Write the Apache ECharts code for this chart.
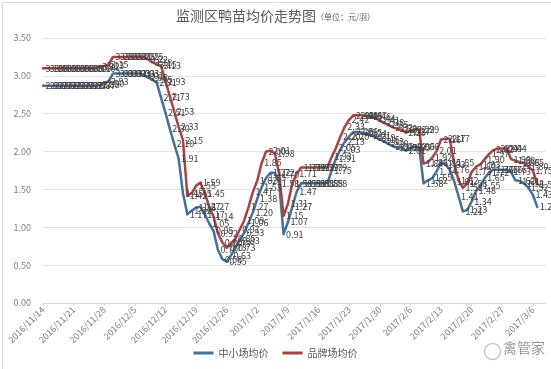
<!DOCTYPE html>
<html><head><meta charset="utf-8">
<script src="https://cdn.jsdelivr.net/npm/echarts@6/dist/echarts.min.js"></script>
<style>html,body{margin:0;padding:0;background:#fff}#c{width:551px;height:369px}</style>
</head><body><div id="c"></div>
<script>
// ---- data ----
var startDate = [2016, 11, 14];
var dayCount = 116;
var seriesNames = ['中小场均价', '品牌场均价'];
var smallFarm = [
2.87,2.87,2.87,2.87,2.87,2.87,2.87,2.87,2.87,2.87,2.87,2.87,2.87,
2.88,2.90,2.93,
3.03,3.03,3.03,3.03,3.03,3.03,3.03,
3.01,2.98,2.95,2.91,2.71,2.51,2.30,2.10,1.91,1.45,1.17,
1.22,1.26,1.27,1.17,1.05,0.95,0.70,0.58,0.55,0.63,0.73,0.83,0.93,1.06,1.20,1.38,1.53,1.65,1.72,1.72,1.58,0.91,1.07,1.27,1.47,
1.58,1.58,1.58,1.58,1.58,1.58,1.58,
1.75,1.91,2.03,2.13,2.20,2.26,2.26,2.25,2.24,2.21,2.19,2.16,2.13,2.10,2.07,2.05,2.05,2.01,2.05,2.06,2.06,
1.58,1.62,1.65,1.74,1.85,1.83,1.76,1.61,1.41,1.21,1.23,1.34,1.48,1.55,1.65,1.72,1.76,1.76,1.76,1.76,1.73,1.62,1.61,1.58,1.52,1.43,1.27
];
var brandFarm = [
3.10,3.10,3.10,3.10,3.10,3.10,3.10,3.10,3.10,3.10,3.10,3.10,3.10,
3.12,3.13,3.15,
3.25,3.25,3.25,3.25,3.25,3.25,3.25,3.25,
3.22,3.18,3.15,3.13,2.93,2.73,2.53,2.33,2.15,1.42,
1.45,1.55,1.59,1.45,1.27,1.14,0.92,0.80,0.73,0.79,0.85,0.97,1.09,1.27,1.47,1.62,1.85,2.00,2.01,1.98,1.70,1.15,1.31,1.58,1.71,
1.79,1.79,1.79,1.79,1.79,1.79,1.79,
1.93,2.05,2.20,2.33,2.42,2.48,2.48,2.48,2.47,2.46,2.44,2.41,2.38,2.35,2.32,2.30,2.29,2.25,2.27,2.29,2.29,
1.84,1.86,1.92,2.01,2.16,2.17,2.17,1.85,1.62,1.52,1.58,1.73,1.80,1.83,1.90,1.97,2.02,2.04,2.04,2.04,1.90,1.88,1.86,1.85,1.80,1.75,1.57
];
var yTicks = [0, 0.5, 1, 1.5, 2, 2.5, 3, 3.5];

// category labels (one per day)
var categories = [];
(function () {
  var d = new Date(startDate[0], startDate[1] - 1, startDate[2]);
  for (var i = 0; i < dayCount; i++) {
    categories.push(d.getFullYear() + '/' + (d.getMonth() + 1) + '/' + d.getDate());
    d.setDate(d.getDate() + 1);
  }
})();

var chart = echarts.init(document.getElementById('c'), null, {renderer: 'canvas'});
var fontFam = '"Noto Sans CJK SC", "Noto Sans", sans-serif';
function lineSeries(name, data, color) {
  return {
    name: name, type: 'line', data: data,
    symbol: 'circle', symbolSize: 1, showSymbol: true,
    itemStyle: {color: color},
    lineStyle: {color: color, width: 2.5, join: 'round', cap: 'round'},
    label: {show: true, position: 'right', distance: 2, color: '#404040', fontSize: 9,
      fontFamily: fontFam, formatter: function (p) { return p.value.toFixed(2); }},
    emphasis: {disabled: true},
    animation: false
  };
}
chart.setOption({
  backgroundColor: '#ffffff',
  animation: false,
  title: {
    left: 'center', top: 4,
    text: '{a|监测区鸭苗均价走势图}{b|（单位：元/羽）}',
    textStyle: {fontWeight: 'normal', rich: {
      a: {fontSize: 14, color: '#595959', fontWeight: 'normal', fontFamily: fontFam},
      b: {fontSize: 8, color: '#595959', fontWeight: 'normal', fontFamily: fontFam, padding: [2, 0, 0, 0]}
    }}
  },
  legend: {
    bottom: 6, left: 'center', itemWidth: 20, itemHeight: 3, itemGap: 14,
    icon: 'rect',
    textStyle: {fontSize: 10, color: '#595959', fontFamily: fontFam},
    data: seriesNames
  },
  grid: {left: 43, right: 5, top: 38, bottom: 66, containLabel: false},
  xAxis: {
    type: 'category', data: categories, boundaryGap: false,
    axisLine: {lineStyle: {color: '#d9d9d9'}},
    axisTick: {show: true, interval: 6, length: 3, lineStyle: {color: '#d9d9d9'}},
    axisLabel: {interval: 6, rotate: 45, fontSize: 9, color: '#7f7f7f', fontFamily: fontFam, margin: 5}
  },
  yAxis: {
    type: 'value', min: yTicks[0], max: yTicks[yTicks.length - 1], interval: 0.5,
    axisLine: {show: false}, axisTick: {show: false},
    axisLabel: {fontSize: 9, color: '#7f7f7f', fontFamily: fontFam, margin: 12,
      formatter: function (v) { return v.toFixed(2); }},
    splitLine: {lineStyle: {color: '#e3e3e3'}}
  },
  graphic: [
    {type: 'rect', left: 0, top: 0, shape: {width: 550, height: 368},
      style: {fill: 'none', stroke: '#d9d9d9', lineWidth: 1}, silent: true},
    {type: 'circle', left: 482, top: 341, shape: {r: 8},
      style: {fill: 'none', stroke: '#c8c8c8', lineWidth: 1.5}, silent: true},
    {type: 'text', left: 503, top: 341,
      style: {text: '禽管家', fontSize: 14, fill: '#9a9a9a', fontFamily: fontFam}, silent: true}
  ],
  series: [
    lineSeries(seriesNames[0], smallFarm, '#41719c'),
    lineSeries(seriesNames[1], brandFarm, '#b0403f')
  ]
});
</script>
</body></html>
